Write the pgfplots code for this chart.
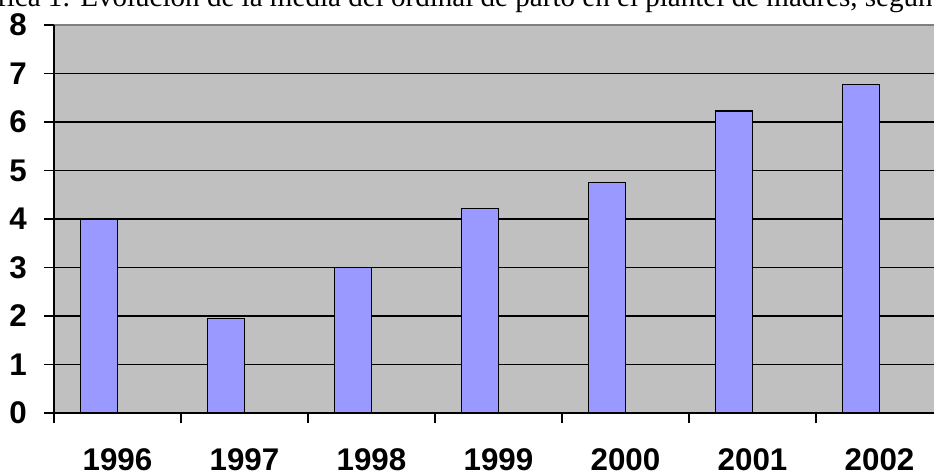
\documentclass[border=0pt]{standalone}
\usepackage{pgfplots}
\pgfplotsset{compat=1.18}
\usepackage{fontspec}
\setmainfont{Liberation Sans}
\newfontfamily\titlefont{Liberation Serif}
\definecolor{plotgray}{HTML}{C0C0C0}
\definecolor{barblue}{HTML}{9999FF}
\definecolor{bordergray}{HTML}{808080}
\begin{document}
\begin{tikzpicture}
\useasboundingbox (0pt,0pt) rectangle (700.5pt,354pt);
\clip (0pt,0pt) rectangle (700.5pt,354pt);
\node[anchor=base west, inner sep=0pt, font=\titlefont\fontsize{21.8}{26}\selectfont] at (60pt,349pt) {\llap{Gráfica 1: }Evolución de la media del ordinal de parto en el plantel de madres, según año};
\begin{axis}[
  at={(40.5pt,44.25pt)}, anchor=south west,
  scale only axis, width=666.75pt, height=291pt,
  xmin=-0.5, xmax=6.5, ymin=0, ymax=8,
  axis background/.style={fill=plotgray, draw=bordergray, line width=1.5pt},
  axis x line*=bottom, axis y line*=left,
  axis line style={black, line width=1pt},
  tick align=outside,
  major tick length=7.5pt,
  tick style={black, line width=1pt},
  /pgf/number format/assume math mode=true,
  tick label style={font=\bfseries\fontsize{23.5}{28}\selectfont},
  ytick={0,1,...,8},
  yticklabel style={anchor=east, inner sep=0pt},
  yticklabel shift=12.75pt,
  xtick={-0.5,0.5,...,6.5},
  xticklabels={},
  extra x ticks={0,1,2,3,4,5,6},
  extra x tick labels={1996,1997,1998,1999,2000,2001,2002},
  extra x tick style={major tick length=0pt, xticklabel style={anchor=north, inner sep=0pt}, xticklabel shift=26.5pt},
  extra y ticks={1,2,3,4,5,6,7},
  extra y tick labels={},
  extra y tick style={grid=major, major tick length=0pt},
  major grid style={black, line width=1pt},
]
\addplot[ybar, bar width=28.1pt, bar shift=-13.9pt, fill=barblue, draw=black, line width=1pt]
  coordinates {(0,4.0) (1,1.95) (2,3.0) (3,4.21) (4,4.75) (5,6.23) (6,6.77)};
\end{axis}
\end{tikzpicture}
\end{document}
